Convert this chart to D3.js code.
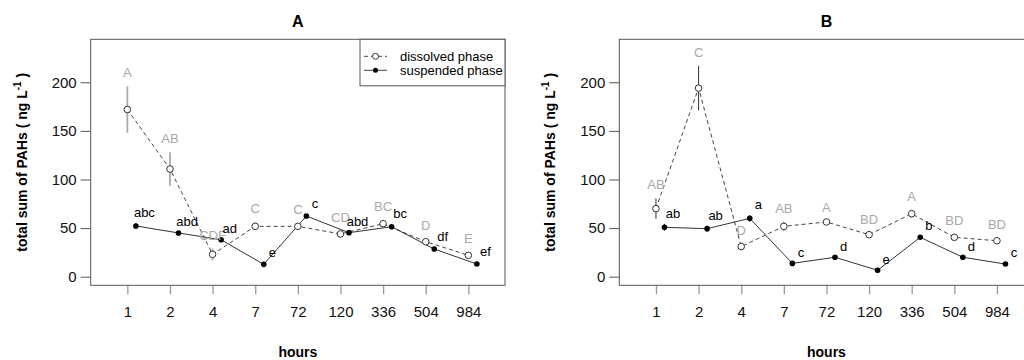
<!DOCTYPE html>
<html>
<head>
<meta charset="utf-8">
<script src="https://cdn.jsdelivr.net/npm/d3@7"></script>
<style>
  body { margin: 0; background: #fff; }
  svg { font-family: "Liberation Sans", Arial, sans-serif; }
</style>
</head>
<body>
<svg id="chart" width="1024" height="360"></svg>
<script>
// hours sampled (categorical on the x axis)
var hours = ["1", "2", "4", "7", "72", "120", "336", "504", "984"];

// panel A
var dissA = [172, 110.8, 23, 51.8, 51.8, 44, 54.5, 36, 22];
var dissSeA = [24, 17.2, 6, 4, 3.5, 3.5, 3.5, 2.5, 3];
var dissLetA = ["A", "AB", "CDF", "C", "C", "CD", "BC", "D", "E"];
var suspA = [52.2, 45, 38, 12.7, 62.4, 45.3, 51.4, 28.5, 13];
var suspSeA = [3, 1, 1, 1.5, 2, 0.5, 2.4, 2.3, 2];
var suspLetA = ["abc", "abd", "ad", "e", "c", "abd", "bc", "df", "ef"];

// panel B
var dissB = [70, 194, 31, 51.8, 56.3, 43.2, 64.8, 40.5, 37];
var dissSeB = [10.5, 23, 3, 4.5, 1.5, 2, 4, 3, 2.5];
var dissLetB = ["AB", "C", "D", "AB", "A", "BD", "A", "BD", "BD"];
var suspB = [50.8, 49.4, 60, 13.7, 20, 6.6, 40.5, 20, 13];
var suspSeB = [3.5, 3, 3.3, 0.7, 0.7, 0.3, 1.3, 0.3, 0.7];
var suspLetB = ["ab", "ab", "a", "c", "d", "e", "b", "d", "c"];

var yTicks = [0, 50, 100, 150, 200];

var svg = d3.select("#chart");

function panel(opt) {
  var left = opt.left, top = 39.3, w = 414.3, h = 246;
  var x = d3.scaleLinear().domain([0.14, 9.86]).range([left, left + w]);
  var y = d3.scaleLinear().domain([-8.85, 244.2]).range([top + h, top]);
  var g = svg.append("g");

  // title
  g.append("text").attr("x", x(5)).attr("y", 27)
    .attr("text-anchor", "middle").attr("font-weight", "bold")
    .attr("font-size", 16).text(opt.title);

  // y axis on box edge
  var yAxis = d3.axisLeft(y).tickValues(yTicks).tickSize(10).tickPadding(4).tickSizeOuter(0);
  var ya = g.append("g").attr("transform", "translate(" + left + ",0)").call(yAxis);
  ya.select(".domain").remove();
  ya.selectAll("line").attr("stroke", "#555");
  ya.selectAll("text").attr("font-size", 15).attr("fill", "#111")
    .attr("font-family", "Liberation Sans, Arial, sans-serif");

  // x axis: grey ticks below the box, no axis line
  var xAxis = d3.axisBottom(x).tickValues(d3.range(1, 10))
    .tickFormat(function(d) { return hours[d - 1]; })
    .tickSize(9).tickPadding(12);
  var xa = g.append("g").attr("transform", "translate(0," + (top + h) + ")").call(xAxis);
  xa.select(".domain").remove();
  xa.selectAll("line").attr("stroke", "#999").attr("stroke-width", 1.3);
  xa.selectAll("text").attr("font-size", 15).attr("fill", "#111")
    .attr("font-family", "Liberation Sans, Arial, sans-serif");

  // box
  g.append("rect").attr("x", left).attr("y", top).attr("width", w).attr("height", h)
    .attr("fill", "none").attr("stroke", "#555").attr("stroke-width", 1);

  // axis titles
  var yl = g.append("text")
    .attr("transform", "translate(" + (left - 64) + "," + (top + h / 2) + ") rotate(-90)")
    .attr("text-anchor", "middle").attr("font-weight", "bold").attr("font-size", 14);
  yl.append("tspan").text("total sum of PAHs ( ng L");
  yl.append("tspan").attr("font-size", 10).attr("dy", -6).text("-1");
  yl.append("tspan").attr("dy", 6).text(" )");

  g.append("text").attr("x", x(5)).attr("y", 357)
    .attr("text-anchor", "middle").attr("font-weight", "bold")
    .attr("font-size", 14).text("hours");

  var idx = d3.range(9);
  var clip = "clip" + opt.title;
  svg.append("clipPath").attr("id", clip).append("rect")
    .attr("x", left - 60).attr("y", 0).attr("width", w + 120).attr("height", 360);
  var p = g.append("g").attr("clip-path", "url(#" + clip + ")");

  // dissolved phase
  var lineD = d3.line().x(function(i) { return x(i + 1); }).y(function(i) { return y(opt.diss[i]); });
  p.append("path").datum(idx).attr("d", lineD).attr("fill", "none")
    .attr("stroke", "#444").attr("stroke-width", 1).attr("stroke-dasharray", "4,3");
  p.selectAll(".ebd").data(idx).enter().append("line")
    .attr("x1", function(i) { return x(i + 1); }).attr("x2", function(i) { return x(i + 1); })
    .attr("y1", function(i) { return y(opt.diss[i] - opt.dissSe[i]); })
    .attr("y2", function(i) { return y(opt.diss[i] + opt.dissSe[i]); })
    .attr("stroke", opt.barColor).attr("stroke-width", opt.barWidth);

  // suspended phase
  var lineS = d3.line().x(function(i) { return x(i + 1.2); }).y(function(i) { return y(opt.susp[i]); });
  p.append("path").datum(idx).attr("d", lineS).attr("fill", "none")
    .attr("stroke", "#333").attr("stroke-width", 1);
  p.selectAll(".ebs").data(idx).enter().append("line")
    .attr("x1", function(i) { return x(i + 1.2); }).attr("x2", function(i) { return x(i + 1.2); })
    .attr("y1", function(i) { return y(opt.susp[i] - opt.suspSe[i]); })
    .attr("y2", function(i) { return y(opt.susp[i] + opt.suspSe[i]); })
    .attr("stroke", "#222").attr("stroke-width", 1);

  p.selectAll(".pd").data(idx).enter().append("circle")
    .attr("cx", function(i) { return x(i + 1); }).attr("cy", function(i) { return y(opt.diss[i]); })
    .attr("r", 3.3).attr("fill", "#fff").attr("stroke", "#333").attr("stroke-width", 1);
  p.selectAll(".ps").data(idx).enter().append("circle")
    .attr("cx", function(i) { return x(i + 1.2); }).attr("cy", function(i) { return y(opt.susp[i]); })
    .attr("r", 2.8).attr("fill", "#000");

  // letters
  p.selectAll(".ld").data(idx).enter().append("text")
    .attr("x", function(i) { return x(i + 1); })
    .attr("y", function(i) { return y(opt.diss[i] + opt.dissSe[i]) - 9; })
    .attr("text-anchor", "middle").attr("font-size", 13).attr("fill", "#a8a8a8")
    .text(function(i) { return opt.dissLet[i]; });
  p.selectAll(".ls").data(idx).enter().append("text")
    .attr("x", function(i) { return x(i + 1.4); })
    .attr("y", function(i) { return y(opt.susp[i] + opt.suspSe[i]) - 6; })
    .attr("text-anchor", "middle").attr("font-size", 13).attr("fill", "#000")
    .text(function(i) { return opt.suspLet[i]; });

  return { x: x, y: y, g: g, left: left, top: top, w: w };
}

var pa = panel({ left: 90.7, title: "A", diss: dissA, dissSe: dissSeA, dissLet: dissLetA,
  susp: suspA, suspSe: suspSeA, suspLet: suspLetA, barColor: "#aaa", barWidth: 1.8 });
panel({ left: 619.3, title: "B", diss: dissB, dissSe: dissSeB, dissLet: dissLetB,
  susp: suspB, suspSe: suspSeB, suspLet: suspLetB, barColor: "#333", barWidth: 1 });

// legend in panel A
var lg = pa.g.append("g");
var lx = 360, ly = pa.top, lw = pa.left + pa.w - 360;
lg.append("rect").attr("x", lx).attr("y", ly).attr("width", lw).attr("height", 46.5)
  .attr("fill", "#fff").attr("stroke", "#555");
var legendItems = [
  { label: "dissolved phase", dash: "4,3", open: true },
  { label: "suspended phase", dash: null, open: false }
];
legendItems.forEach(function(d, i) {
  var cy = ly + 17 + i * 14;
  lg.append("line").attr("x1", lx + 4).attr("x2", lx + 27).attr("y1", cy).attr("y2", cy)
    .attr("stroke", "#444").attr("stroke-dasharray", d.dash);
  lg.append("circle").attr("cx", lx + 15.5).attr("cy", cy).attr("r", d.open ? 3 : 2.5)
    .attr("fill", d.open ? "#fff" : "#000").attr("stroke", d.open ? "#333" : "none");
  lg.append("text").attr("x", lx + 40).attr("y", cy + 4.5).attr("font-size", 13)
    .text(d.label);
});
</script>
</body>
</html>
